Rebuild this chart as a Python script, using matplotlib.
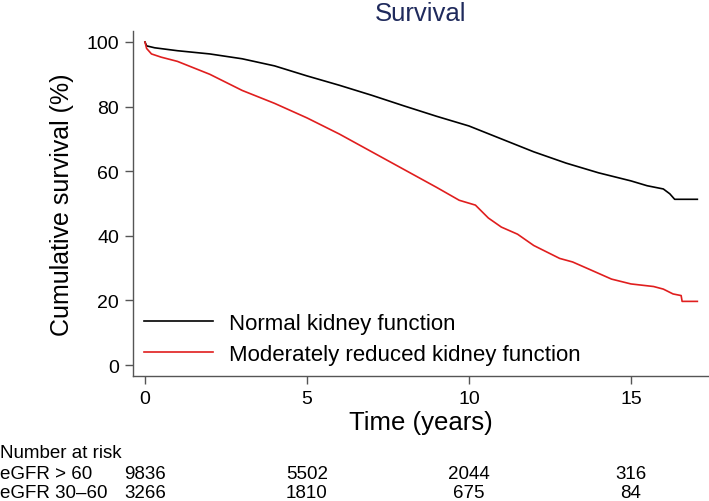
import matplotlib
matplotlib.use("Agg")
import matplotlib.pyplot as plt
import matplotlib.transforms as mtransforms

plt.rcParams['font.family'] = ['Liberation Sans', 'DejaVu Sans']

# Data
t_normal = [0, 0.05, 0.3, 1, 2, 3, 4, 5, 6, 7, 8, 9, 10, 11, 12, 13, 14, 15, 15.5, 16, 16.2, 16.35, 17.05]
s_normal = [100, 98.8, 98.2, 97.3, 96.3, 94.8, 92.6, 89.5, 86.6, 83.5, 80.2, 77, 74, 70, 66, 62.5, 59.5, 57, 55.5, 54.5, 53, 51.3, 51.3]

t_reduced = [0, 0.05, 0.2, 0.5, 1, 1.5, 2, 3, 4, 5, 6, 7, 8, 9, 9.7, 10.2, 10.6, 11, 11.5, 12, 12.4,
             12.8, 13.2, 13.7, 14.4, 15, 15.7, 16, 16.3, 16.55, 16.58, 17.05]
s_reduced = [100, 98, 96.3, 95.3, 94, 92, 90, 85, 81, 76.5, 71.5, 66, 60.5, 55, 51, 49.5, 45.5, 42.7, 40.5, 37, 35,
             33, 31.9, 29.7, 26.6, 25.1, 24.3, 23.5, 22, 21.5, 19.7, 19.7]

series_labels = ["Normal kidney function", "Moderately reduced kidney function"]
series_colors = ["black", "#e01e1e"]

xticks = [0, 5, 10, 15]
yticks = [0, 20, 40, 60, 80, 100]

risk_groups = ["eGFR > 60", "eGFR 30\u201360"]
risk_normal = [9836, 5502, 2044, 316]
risk_reduced = [3266, 1810, 675, 84]

W, H = 709, 502
fig = plt.figure(figsize=(W / 100, H / 100), dpi=100)
ax = fig.add_axes([133 / W, 1 - 377 / H, 1 - 133 / W, (377 - 32) / H])

ax.plot(t_normal, s_normal, color=series_colors[0], lw=1.2, label=series_labels[0])
ax.plot(t_reduced, s_reduced, color=series_colors[1], lw=1.2, label=series_labels[1])

ax.set_xlim(-0.37, 17.41)
ax.set_ylim(-3.4, 103.4)
ax.set_xticks(xticks)
ax.set_yticks(yticks)
for s in ['top', 'right']:
    ax.spines[s].set_visible(False)
for s in ['left', 'bottom']:
    ax.spines[s].set_color('#555555')
    ax.spines[s].set_linewidth(1.0)
ax.tick_params(axis='both', direction='out', length=6, width=1.0, color='#555555',
               labelsize=14, pad=4)

ax.set_xlabel("Time (years)", fontsize=18.5, labelpad=2)
ax.set_ylabel("Cumulative survival (%)", fontsize=18, labelpad=9)
ax.set_title("Survival", fontsize=18.5, color='#1f2a5c', pad=8)

leg = ax.legend(loc='lower left', bbox_to_anchor=(0.012, 0.02), frameon=False,
                fontsize=16, handlelength=3.1, handletextpad=0.7, labelspacing=0.45,
                borderaxespad=0, borderpad=0.2)

# Number at risk table
fs = 13.5
fig.text(0, 1 - 458 / H, "Number at risk", fontsize=fs, ha='left', va='baseline')
trans = mtransforms.blended_transform_factory(ax.transData, fig.transFigure)
rows = [(risk_groups[0], risk_normal, 479), (risk_groups[1], risk_reduced, 498)]
for name, vals, yb in rows:
    fig.text(0, 1 - yb / H, name, fontsize=fs, ha='left', va='baseline')
    for x, v in zip(xticks, vals):
        ax.text(x, 1 - yb / H, str(v), fontsize=fs, ha='center', va='baseline',
                transform=trans, clip_on=False)

fig.savefig("out.png", dpi=100)
